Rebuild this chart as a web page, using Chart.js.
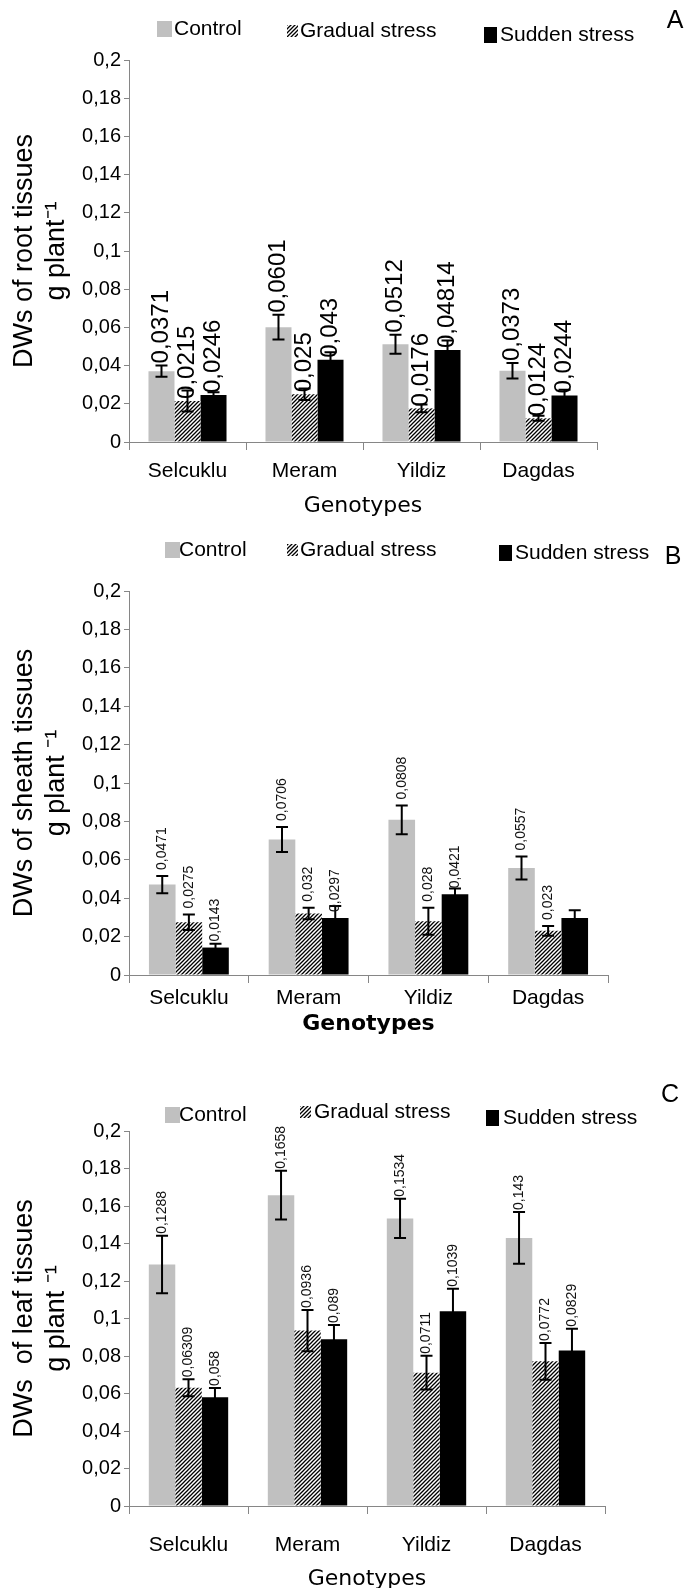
<!DOCTYPE html>
<html><head><meta charset="utf-8">
<script src="https://cdn.jsdelivr.net/npm/chart.js@4.4.1/dist/chart.umd.min.js"></script>
<style>
html,body{margin:0;padding:0;background:#fff;}
body{width:686px;height:1588px;overflow:hidden;}
.panel{position:relative;width:686px;}
</style></head><body>
<div class="panel" style="height:520px"><canvas id="cA"></canvas></div>
<div class="panel" style="height:530px"><canvas id="cB"></canvas></div>
<div class="panel" style="height:538px"><canvas id="cC"></canvas></div>
<script>
// ---------- data ----------
const genotypes = ['Selcuklu', 'Meram', 'Yildiz', 'Dagdas'];
const seriesNames = ['Control', 'Gradual stress', 'Sudden stress'];
const yTickLabels = ['0', '0,02', '0,04', '0,06', '0,08', '0,1', '0,12', '0,14', '0,16', '0,18', '0,2'];

// A - roots
const rootControl = [0.0371, 0.0601, 0.0512, 0.0373];
const rootGradual = [0.0215, 0.025, 0.0176, 0.0124];
const rootSudden = [0.0246, 0.043, 0.04814, 0.0244];
const rootControlErr = [0.003, 0.0065, 0.005, 0.004];
const rootGradualErr = [0.0055, 0.003, 0.002, 0.0013];
const rootSuddenErr = [0.0015, 0.004, 0.005, 0.003];
const rootControlLabels = ['0,0371', '0,0601', '0,0512', '0,0373'];
const rootGradualLabels = ['0,0215', '0,025', '0,0176', '0,0124'];
const rootSuddenLabels = ['0,0246', '0,043', '0,04814', '0,0244'];

// B - sheath
const sheathControl = [0.0471, 0.0706, 0.0808, 0.0557];
const sheathGradual = [0.0275, 0.032, 0.028, 0.023];
const sheathSudden = [0.0143, 0.0297, 0.0421, 0.0297];
const sheathControlErr = [0.0045, 0.0065, 0.0075, 0.006];
const sheathGradualErr = [0.004, 0.003, 0.007, 0.0025];
const sheathSuddenErr = [0.002, 0.0063, 0.003, 0.004];
const sheathControlLabels = ['0,0471', '0,0706', '0,0808', '0,0557'];
const sheathGradualLabels = ['0,0275', '0,032', '0,028', '0,023'];
const sheathSuddenLabels = ['0,0143', '0,0297', '0,0421', null];

// C - leaf
const leafControl = [0.1288, 0.1658, 0.1534, 0.143];
const leafGradual = [0.06309, 0.0936, 0.0711, 0.0772];
const leafSudden = [0.058, 0.089, 0.1039, 0.0829];
const leafControlErr = [0.0153, 0.013, 0.0105, 0.0138];
const leafGradualErr = [0.0045, 0.011, 0.009, 0.0098];
const leafSuddenErr = [0.005, 0.0075, 0.012, 0.0117];
const leafControlLabels = ['0,1288', '0,1658', '0,1534', '0,143'];
const leafGradualLabels = ['0,06309', '0,0936', '0,0711', '0,0772'];
const leafSuddenLabels = ['0,058', '0,089', '0,1039', '0,0829'];

// ---------- styles ----------
const FONT = "'Liberation Sans', Arial, sans-serif";
const WIDE = "'DejaVu Sans', 'Liberation Sans', sans-serif";
const AXIS_GRAY = '#868686';

function hatchPattern() {
  const s = 4;
  const c = document.createElement('canvas');
  c.width = s; c.height = s;
  const g = c.getContext('2d');
  g.fillStyle = '#fff'; g.fillRect(0, 0, s, s);
  g.strokeStyle = '#000'; g.lineWidth = 1.3;
  g.beginPath();
  g.moveTo(0, s); g.lineTo(s, 0);
  g.moveTo(-1, 1); g.lineTo(1, -1);
  g.moveTo(s - 1, s + 1); g.lineTo(s + 1, s - 1);
  g.stroke();
  return g.createPattern(c, 'repeat');
}
const fills = ['#c0c0c0', hatchPattern(), '#000000'];

// ---------- decorations plugin (error bars, value labels, legend, panel letter) ----------
const decorPlugin = {
  id: 'decor',
  afterDatasetsDraw(chart, args, opts) {
    const ctx = chart.ctx;
    const y = chart.scales.y;
    ctx.save();
    chart.data.datasets.forEach((ds, k) => {
      const meta = chart.getDatasetMeta(k);
      meta.data.forEach((bar, i) => {
        const v = ds.data[i], e = ds.errors[i];
        const yT = y.getPixelForValue(v + e), yB = y.getPixelForValue(v - e);
        ctx.strokeStyle = '#000';
        ctx.lineWidth = 2;
        ctx.beginPath();
        ctx.moveTo(bar.x, yT); ctx.lineTo(bar.x, yB);
        ctx.moveTo(bar.x - 6, yT); ctx.lineTo(bar.x + 6, yT);
        ctx.moveTo(bar.x - 6, yB); ctx.lineTo(bar.x + 6, yB);
        ctx.stroke();
      });
    });
    chart.data.datasets.forEach((ds, k) => {
      const meta = chart.getDatasetMeta(k);
      meta.data.forEach((bar, i) => {
        const txt = ds.valueLabels[i];
        if (!txt) return;
        const v = ds.data[i], e = ds.errors[i];
        const base = opts.labelAnchor[k] === 'err' ? y.getPixelForValue(v + e) : bar.y;
        ctx.save();
        ctx.translate(bar.x, base - opts.labelGap);
        ctx.rotate(-Math.PI / 2);
        ctx.font = opts.labelFont;
        ctx.fillStyle = opts.labelColor;
        ctx.textAlign = 'left';
        ctx.textBaseline = 'middle';
        ctx.fillText(txt, 0, 0);
        ctx.restore();
      });
    });
    ctx.restore();
  },
  afterDraw(chart, args, opts) {
    const ctx = chart.ctx;
    ctx.save();
    opts.legend.forEach((it, k) => {
      const ds = chart.data.datasets[k];
      ctx.fillStyle = ds.backgroundColor;
      ctx.fillRect(it.x, it.y - it.h / 2, it.w, it.h);
      ctx.fillStyle = '#000';
      ctx.font = '21px ' + FONT;
      ctx.textAlign = 'left';
      ctx.textBaseline = 'middle';
      ctx.fillText(ds.label, it.tx, it.y);
    });
    ctx.font = '25px ' + FONT;
    ctx.fillStyle = '#000';
    ctx.textAlign = 'center';
    ctx.textBaseline = 'middle';
    ctx.fillText(opts.letter.text, opts.letter.x, opts.letter.y);
    ctx.restore();
  }
};

function makePanel(id, cfg) {
  const datasets = cfg.series.map((s, k) => ({
    label: seriesNames[k],
    data: s.values,
    errors: s.errors,
    valueLabels: s.labels,
    backgroundColor: fills[k],
    borderWidth: 0,
    categoryPercentage: 0.667,
    barPercentage: 1.0
  }));
  return new Chart(document.getElementById(id), {
    type: 'bar',
    data: { labels: genotypes, datasets },
    options: {
      responsive: true,
      maintainAspectRatio: false,
      animation: false,
      events: [],
      layout: { padding: { top: cfg.top, right: cfg.right, left: 0, bottom: 0 } },
      plugins: {
        legend: { display: false },
        tooltip: { enabled: false },
        decor: {
          legend: cfg.legend,
          letter: cfg.letter,
          labelAnchor: cfg.labelAnchor,
          labelGap: cfg.labelGap,
          labelFont: cfg.labelFont,
          labelColor: cfg.labelColor
        }
      },
      scales: {
        x: {
          offset: true,
          grid: { offset: true, drawOnChartArea: false, drawTicks: true, tickLength: 8, color: AXIS_GRAY, lineWidth: 1 },
          border: { color: AXIS_GRAY, width: 1 },
          ticks: { color: '#000', padding: cfg.tickPad, font: { family: FONT, size: 21, lineHeight: 1.2 }, maxRotation: 0, autoSkip: false },
          title: { display: true, text: 'Genotypes', color: '#000',
                   font: { family: WIDE, size: 22, weight: cfg.xTitleWeight, lineHeight: 1.2 },
                   padding: { top: 0, bottom: cfg.xTitlePad } },
          afterFit(s) { s.height = cfg.xHeight; }
        },
        y: {
          min: 0, max: 0.2,
          grid: { drawOnChartArea: false, drawTicks: true, tickLength: 5, color: AXIS_GRAY, lineWidth: 1 },
          border: { color: AXIS_GRAY, width: 1 },
          ticks: { stepSize: 0.02, color: '#000', padding: 3, font: { family: FONT, size: 20 },
                   callback: (v, i) => yTickLabels[i] },
          title: { display: true, text: cfg.yTitle, color: '#000',
                   font: { family: FONT, size: 27, lineHeight: 1.2 },
                   padding: { top: 8, bottom: 0 } },
          afterFit(s) { s.width = 129; }
        }
      }
    },
    plugins: [decorPlugin]
  });
}

makePanel('cA', {
  series: [
    { values: rootControl, errors: rootControlErr, labels: rootControlLabels },
    { values: rootGradual, errors: rootGradualErr, labels: rootGradualLabels },
    { values: rootSudden, errors: rootSuddenErr, labels: rootSuddenLabels }
  ],
  top: 60, right: 89, xHeight: 78, tickPad: 9, xTitlePad: 1, xTitleWeight: 'normal',
  yTitle: ['DWs of root tissues', 'g plant\u207B\u00B9'],
  legend: [
    { x: 157, y: 29, w: 15, h: 16, tx: 174 },
    { x: 287, y: 31, w: 11, h: 12, tx: 300 },
    { x: 484, y: 35, w: 13, h: 16, tx: 500 }
  ],
  letter: { text: 'A', x: 675, y: 21 },
  labelAnchor: ['err', 'bar', 'bar'], labelGap: 2,
  labelFont: '24px ' + FONT, labelColor: '#000'
});

makePanel('cB', {
  series: [
    { values: sheathControl, errors: sheathControlErr, labels: sheathControlLabels },
    { values: sheathGradual, errors: sheathGradualErr, labels: sheathGradualLabels },
    { values: sheathSudden, errors: sheathSuddenErr, labels: sheathSuddenLabels }
  ],
  top: 71, right: 78, xHeight: 75, tickPad: 3, xTitlePad: 13, xTitleWeight: 'bold',
  yTitle: ['DWs of sheath tissues', 'g plant \u207B\u00B9'],
  legend: [
    { x: 165, y: 30, w: 15, h: 16, tx: 179 },
    { x: 287, y: 30, w: 11, h: 12, tx: 300 },
    { x: 499, y: 33, w: 13, h: 16, tx: 515 }
  ],
  letter: { text: 'B', x: 673, y: 37 },
  labelAnchor: ['err', 'err', 'bar'], labelGap: 6,
  labelFont: '14px ' + FONT, labelColor: '#111'
});

makePanel('cC', {
  series: [
    { values: leafControl, errors: leafControlErr, labels: leafControlLabels },
    { values: leafGradual, errors: leafGradualErr, labels: leafGradualLabels },
    { values: leafSudden, errors: leafSuddenErr, labels: leafSuddenLabels }
  ],
  top: 81, right: 81, xHeight: 82, tickPad: 19, xTitlePad: -4, xTitleWeight: 'normal',
  yTitle: ['DWs  of leaf tissues', 'g plant \u207B\u00B9'],
  legend: [
    { x: 165, y: 65, w: 15, h: 16, tx: 179 },
    { x: 300, y: 62, w: 11, h: 12, tx: 314 },
    { x: 486, y: 68, w: 13, h: 16, tx: 503 }
  ],
  letter: { text: 'C', x: 670, y: 45 },
  labelAnchor: ['err', 'err', 'err'], labelGap: 2,
  labelFont: '14px ' + FONT, labelColor: '#111'
});
</script>
</body></html>
